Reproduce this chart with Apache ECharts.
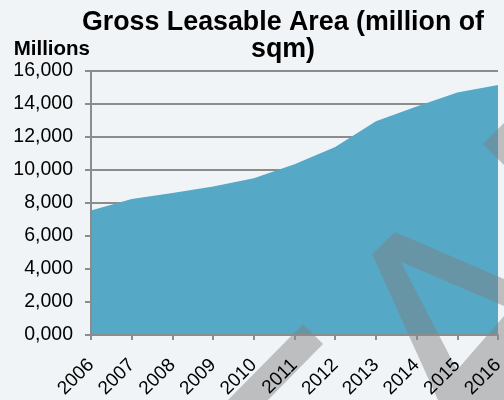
<!DOCTYPE html>
<html>
<head>
<meta charset="utf-8">
<script src="https://cdn.jsdelivr.net/npm/echarts@6/dist/echarts.min.js"></script>
<style>
  html, body { margin: 0; padding: 0; background: #f0f4f7; }
  #chart { width: 504px; height: 400px; }
</style>
</head>
<body>
<div id="chart"></div>
<script>
// Gross leasable area by year
const years = ['2006', '2007', '2008', '2009', '2010', '2011', '2012', '2013', '2014', '2015', '2016'];
const areaValues = [7550, 8250, 8600, 9000, 9500, 10350, 11400, 12950, 13850, 14700, 15150];
const yTickLabels = ['0,000', '2,000', '4,000', '6,000', '8,000', '10,000', '12,000', '14,000', '16,000'];

const FONT = '"Liberation Sans", Arial, Helvetica, sans-serif';
const AXIS_GREY = '#8c8c8c';
const SHADE = 'rgba(127,127,127,0.46)';

const chart = echarts.init(document.getElementById('chart'));

chart.setOption({
  backgroundColor: '#f0f4f7',
  animation: false,
  title: {
    text: 'Gross Leasable Area (million of\nsqm)',
    left: 278,
    top: 4,
    textAlign: 'center',
    textStyle: {
      fontFamily: FONT,
      fontSize: 26.8,
      fontWeight: 'bold',
      color: '#000',
      lineHeight: 27
    }
  },
  grid: {
    left: 91,
    right: 6,
    top: 71,
    bottom: 65,
    outerBoundsMode: 'none'
  },
  xAxis: {
    type: 'category',
    data: years,
    boundaryGap: false,
    z: 5,
    axisLine: { lineStyle: { color: AXIS_GREY, width: 2 } },
    axisTick: { alignWithLabel: true, length: 5, lineStyle: { color: AXIS_GREY, width: 2 } },
    axisLabel: {
      rotate: 45,
      interval: 0,
      margin: 27,
      fontFamily: FONT,
      fontSize: 19,
      color: '#000'
    },
    splitLine: { show: false }
  },
  yAxis: [
    {
      // labels, ticks and axis line, drawn above the area
      type: 'value',
      min: 0,
      max: 16000,
      interval: 2000,
      position: 'left',
      z: 5,
      name: 'Millions',
      nameLocation: 'end',
      nameGap: 11,
      nameTextStyle: {
        fontFamily: FONT,
        fontSize: 20.5,
        fontWeight: 'bold',
        color: '#000',
        align: 'right',
        padding: [0, 1, 0, 0]
      },
      axisLine: { show: true, lineStyle: { color: AXIS_GREY, width: 2 } },
      axisTick: { show: true, length: 6, lineStyle: { color: AXIS_GREY, width: 2 } },
      axisLabel: {
        margin: 18,
        fontFamily: FONT,
        fontSize: 19.5,
        color: '#000',
        formatter: (v) => yTickLabels[Math.round(v / 2000)]
      },
      splitLine: { show: false }
    },
    {
      // horizontal grid lines, kept behind the area
      type: 'value',
      min: 0,
      max: 16000,
      interval: 2000,
      position: 'left',
      offset: 0,
      z: 0,
      axisLine: { show: false },
      axisTick: { show: false },
      axisLabel: { show: false },
      splitLine: { show: true, lineStyle: { color: AXIS_GREY, width: 2 } }
    }
  ],
  series: [{
    type: 'line',
    data: areaValues,
    yAxisIndex: 0,
    symbol: 'none',
    lineStyle: { width: 0 },
    areaStyle: { color: '#55a9c7', opacity: 1 },
    z: 2
  }],
  // faint grey stamp across the lower right of the plot
  graphic: [
    {
      type: 'polygon',
      z: 3,
      silent: true,
      shape: { points: [[228, 400], [303, 324], [323, 344], [268, 400]] },
      style: { fill: SHADE }
    },
    {
      type: 'polygon',
      z: 3,
      silent: true,
      shape: { points: [[372, 254], [395, 232], [504, 279], [504, 306], [401, 262], [457, 370], [504, 316], [504, 400], [438, 400]] },
      style: { fill: SHADE }
    },
    {
      type: 'polygon',
      z: 3,
      silent: true,
      shape: { points: [[504, 123], [483, 144], [504, 165]] },
      style: { fill: SHADE }
    }
  ]
});
</script>
</body>
</html>
